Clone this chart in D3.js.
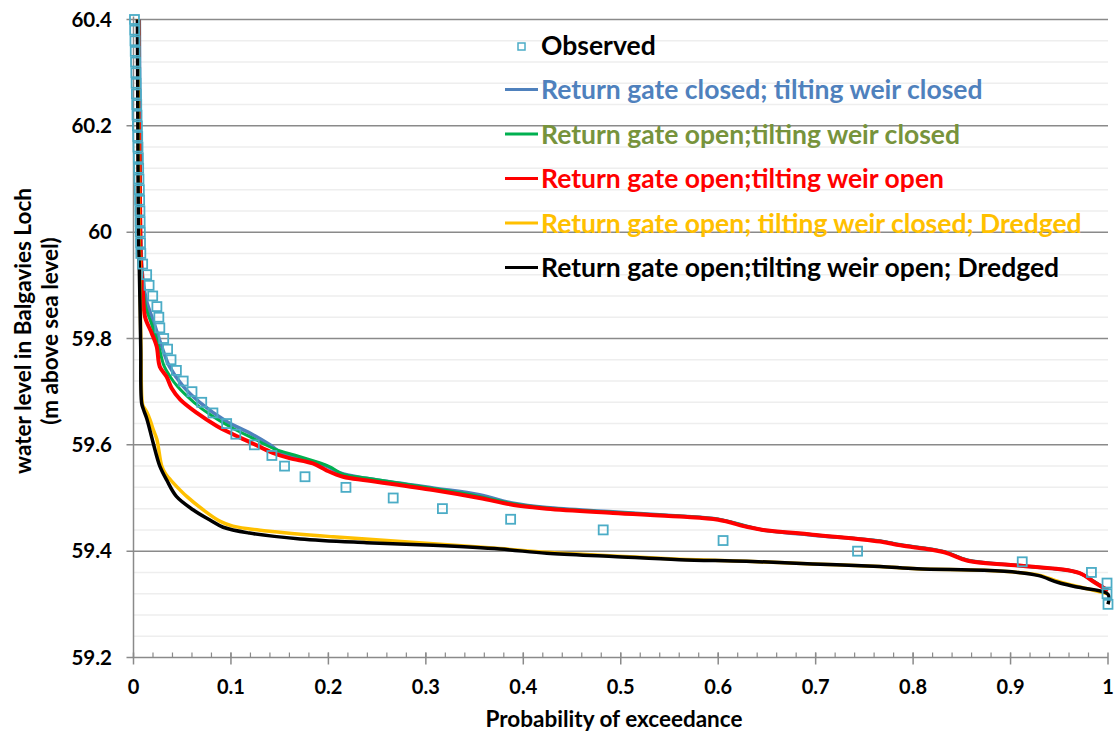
<!DOCTYPE html>
<html>
<head>
<meta charset="utf-8">
<script src="https://cdn.jsdelivr.net/npm/d3@7"></script>
<style>
  body { margin: 0; background: #fff; }
  text { font-family: Lato, "Open Sans", sans-serif; font-weight: bold; }
</style>
</head>
<body>
<div id="chart"></div>
<script>
var width = 1115;
var height = 733;
var margin = { top: 19.5, right: 7, bottom: 75, left: 133.5 };

// observed water levels and their exceedance probability
var obsLevel = [60.40, 60.38, 60.36, 60.34, 60.32, 60.30, 60.28, 60.26, 60.24, 60.22,
    60.20, 60.18, 60.16, 60.14, 60.12, 60.10, 60.08, 60.06, 60.04, 60.02,
    60.00, 59.98, 59.96, 59.94, 59.92, 59.90, 59.88, 59.86, 59.84, 59.82,
    59.80, 59.78, 59.76, 59.74, 59.72, 59.70, 59.68, 59.66, 59.64, 59.62,
    59.60, 59.58, 59.56, 59.54, 59.52, 59.50, 59.48, 59.46, 59.44, 59.42,
    59.40, 59.38, 59.36, 59.34, 59.32, 59.30];
var obsProb = [0.001, 0.0012, 0.0015, 0.0018, 0.0021, 0.0024, 0.0027, 0.003, 0.0033, 0.0036,
    0.004, 0.0043, 0.0046, 0.005, 0.0053, 0.0056, 0.006, 0.0063, 0.0066, 0.0068,
    0.007, 0.0072, 0.0075, 0.0094, 0.0135, 0.016, 0.0197, 0.024, 0.026, 0.027,
    0.031, 0.035, 0.0385, 0.044, 0.051, 0.060, 0.070, 0.0815, 0.0956, 0.105,
    0.124, 0.142, 0.155, 0.176, 0.218, 0.2665, 0.317, 0.387, 0.482, 0.605,
    0.743, 0.912, 0.983, 0.999, 0.999, 1.0];

// modelled scenarios: [probability, level]
var gateClosedWeirClosed = [[0.006,60.40],[0.0063,60.30],[0.0066,60.20],[0.0069,60.10],[0.0072,60.00],[0.0085,59.94],[0.0095,59.915],[0.0135,59.87],[0.020,59.835],[0.029,59.785],[0.037,59.747],[0.051,59.71],[0.068,59.68],[0.0956,59.644],[0.1195,59.622],[0.14,59.60],[0.152,59.585],[0.171,59.575],[0.198,59.56],[0.212,59.547],[0.239,59.537],[0.3075,59.519],[0.355,59.506],[0.39,59.49],[0.424,59.482],[0.492,59.474],[0.56,59.466],[0.60,59.46],[0.629,59.447],[0.646,59.44],[0.697,59.43],[0.766,59.419],[0.787,59.412],[0.832,59.399],[0.856,59.383],[0.908,59.373],[0.959,59.364],[0.973,59.357],[0.984,59.345],[1.0,59.326]];
var gateOpenWeirClosed = [[0.0055,60.40],[0.006,60.30],[0.0063,60.20],[0.0068,60.10],[0.0072,60.00],[0.0082,59.93],[0.0095,59.905],[0.0125,59.86],[0.019,59.825],[0.026,59.785],[0.031,59.75],[0.037,59.73],[0.045,59.71],[0.062,59.68],[0.08,59.655],[0.1,59.633],[0.125,59.61],[0.145,59.592],[0.17,59.578],[0.2,59.56],[0.215,59.545],[0.24,59.537],[0.3075,59.518],[0.355,59.503],[0.39,59.489],[0.424,59.481],[0.492,59.473],[0.56,59.466],[0.60,59.46],[0.629,59.447],[0.646,59.44],[0.697,59.431],[0.766,59.419],[0.787,59.412],[0.832,59.399],[0.856,59.383],[0.908,59.373],[0.959,59.364],[0.973,59.357],[0.984,59.345],[1.0,59.326]];
var gateOpenWeirOpen = [[0.005,60.40],[0.0055,60.30],[0.006,60.20],[0.0065,60.10],[0.007,60.00],[0.008,59.93],[0.0094,59.898],[0.0118,59.841],[0.0187,59.81],[0.0238,59.785],[0.027,59.747],[0.034,59.728],[0.039,59.707],[0.048,59.685],[0.065,59.66],[0.085,59.636],[0.102,59.62],[0.123,59.602],[0.143,59.585],[0.16,59.575],[0.184,59.565],[0.198,59.552],[0.215,59.54],[0.24,59.533],[0.3075,59.515],[0.355,59.5],[0.39,59.487],[0.424,59.48],[0.492,59.472],[0.56,59.465],[0.60,59.459],[0.629,59.446],[0.646,59.44],[0.697,59.431],[0.766,59.418],[0.787,59.411],[0.832,59.398],[0.856,59.382],[0.908,59.373],[0.959,59.364],[0.973,59.357],[0.984,59.344],[1.0,59.326]];
var gateOpenWeirClosedDredged = [[0.0045,60.40],[0.005,60.20],[0.0055,60.00],[0.0065,59.93],[0.0075,59.80],[0.0085,59.69],[0.0095,59.675],[0.0135,59.662],[0.017,59.647],[0.020,59.63],[0.024,59.61],[0.029,59.56],[0.033,59.545],[0.041,59.528],[0.0546,59.503],[0.075,59.473],[0.089,59.456],[0.102,59.447],[0.137,59.438],[0.205,59.427],[0.3075,59.414],[0.376,59.405],[0.424,59.398],[0.492,59.391],[0.56,59.385],[0.629,59.381],[0.697,59.376],[0.766,59.371],[0.804,59.367],[0.873,59.364],[0.908,59.36],[0.929,59.355],[0.949,59.343],[0.97,59.333],[1.0,59.32]];
var gateOpenWeirOpenDredged = [[0.004,60.40],[0.0045,60.20],[0.005,60.00],[0.006,59.93],[0.0074,59.785],[0.0084,59.678],[0.0105,59.665],[0.0135,59.65],[0.020,59.605],[0.027,59.56],[0.034,59.534],[0.044,59.503],[0.061,59.478],[0.078,59.459],[0.092,59.445],[0.119,59.434],[0.171,59.423],[0.239,59.416],[0.3075,59.411],[0.376,59.404],[0.424,59.396],[0.492,59.39],[0.56,59.384],[0.629,59.381],[0.697,59.376],[0.766,59.371],[0.804,59.367],[0.873,59.364],[0.908,59.36],[0.929,59.354],[0.949,59.341],[0.97,59.332],[1.0,59.319],[1.0,59.30]];

var seriesNames = ["Return gate closed; tilting weir closed", "Return gate open;tilting weir closed",
    "Return gate open;tilting weir open", "Return gate open; tilting weir closed; Dredged",
    "Return gate open;tilting weir open; Dredged"];
var seriesData = [gateClosedWeirClosed, gateOpenWeirClosed, gateOpenWeirOpen,
    gateOpenWeirClosedDredged, gateOpenWeirOpenDredged];
var lineColors = ["#4f81bd", "#00b050", "#ff0000", "#ffc000", "#000000"];
var textColors = ["#4f81bd", "#77933c", "#ff0000", "#ffc000", "#000000"];
var lineWidths = [3.5, 3, 4, 3.5, 3.5];

var xTicks = [0, 0.1, 0.2, 0.3, 0.4, 0.5, 0.6, 0.7, 0.8, 0.9, 1];
var xTickLabels = ["0", "0.1", "0.2", "0.3", "0.4", "0.5", "0.6", "0.7", "0.8", "0.9", "1"];
var yTicks = [59.2, 59.4, 59.6, 59.8, 60, 60.2, 60.4];
var yTickLabels = ["59.2", "59.4", "59.6", "59.8", "60", "60.2", "60.4"];

var x = d3.scaleLinear().domain([0, 1]).range([margin.left, width - margin.right]);
var y = d3.scaleLinear().domain([59.2, 60.4]).range([height - margin.bottom - 0.5, margin.top]);

var svg = d3.select("#chart").append("svg")
    .attr("width", width)
    .attr("height", height);

// minor gridlines every 0.04
var minorY = d3.range(59.24, 60.4, 0.04).filter(function(v) {
    return Math.abs(v * 5 - Math.round(v * 5)) > 0.01;
});
svg.append("g").selectAll("line").data(minorY).enter().append("line")
    .attr("x1", x(0)).attr("x2", x(1))
    .attr("y1", function(d) { return y(d); }).attr("y2", function(d) { return y(d); })
    .attr("stroke", "#eeeeee").attr("stroke-width", 1.5);

// major gridlines
svg.append("g").selectAll("line").data(yTicks.slice(1)).enter().append("line")
    .attr("x1", x(0) - 7).attr("x2", x(1))
    .attr("y1", function(d) { return y(d); }).attr("y2", function(d) { return y(d); })
    .attr("stroke", "#8a8a8a").attr("stroke-width", 1.5);

// x axis
var xAxis = svg.append("g");
xAxis.append("line")
    .attr("x1", x(0) - 7).attr("x2", x(1))
    .attr("y1", y(59.2)).attr("y2", y(59.2))
    .attr("stroke", "#8a8a8a").attr("stroke-width", 1.5);
var minorX = d3.range(0.02, 1, 0.02);
xAxis.selectAll(".mx").data(minorX).enter().append("line")
    .attr("x1", function(d) { return x(d); }).attr("x2", function(d) { return x(d); })
    .attr("y1", y(59.2) - 5).attr("y2", y(59.2))
    .attr("stroke", "#8a8a8a").attr("stroke-width", 1.2);
xAxis.selectAll(".Mx").data(xTicks).enter().append("line")
    .attr("x1", function(d) { return x(d); }).attr("x2", function(d) { return x(d); })
    .attr("y1", y(59.2) - 5).attr("y2", y(59.2) + 7)
    .attr("stroke", "#8a8a8a").attr("stroke-width", 1.5);
xAxis.selectAll("text").data(xTicks).enter().append("text")
    .attr("x", function(d) { return x(d); })
    .attr("y", 693.5)
    .attr("text-anchor", "middle")
    .attr("font-size", 20)
    .text(function(d, i) { return xTickLabels[i]; });

// y axis
svg.append("line")
    .attr("x1", x(0)).attr("x2", x(0))
    .attr("y1", y(60.4) - 3).attr("y2", y(59.2))
    .attr("stroke", "#8a8a8a").attr("stroke-width", 1.5);
svg.append("g").selectAll("text").data(yTicks).enter().append("text")
    .attr("x", 112)
    .attr("y", function(d) { return y(d) + 7; })
    .attr("text-anchor", "end")
    .attr("font-size", 20.5)
    .text(function(d, i) { return yTickLabels[i]; });

// axis titles
svg.append("text")
    .attr("x", 614)
    .attr("y", 727)
    .attr("text-anchor", "middle")
    .attr("font-size", 22.5)
    .text("Probability of exceedance");
var yTitle = svg.append("text")
    .attr("transform", "translate(31,331) rotate(-90)")
    .attr("text-anchor", "middle")
    .attr("font-size", 22.5);
yTitle.append("tspan").attr("x", 0).attr("dy", 0).text("water level in Balgavies Loch");
yTitle.append("tspan").attr("x", 0).attr("dy", 27).text("(m above sea level)");

// lines
var line = d3.line()
    .x(function(d) { return x(d[0]); })
    .y(function(d) { return y(d[1]); })
    .curve(d3.curveCatmullRom.alpha(0.5));

svg.append("g").selectAll("path").data(seriesData).enter().append("path")
    .attr("d", line)
    .attr("fill", "none")
    .attr("stroke", function(d, i) { return lineColors[i]; })
    .attr("stroke-width", function(d, i) { return lineWidths[i]; })
    .attr("stroke-linejoin", "round");

// observed squares
svg.append("g").selectAll("rect").data(obsLevel).enter().append("rect")
    .attr("x", function(d, i) { return x(obsProb[i]) - 4.5; })
    .attr("y", function(d) { return y(d) - 4.5; })
    .attr("width", 9).attr("height", 9)
    .attr("fill", "none")
    .attr("stroke", "#4bacc6")
    .attr("stroke-width", 1.8);

// legend
var legend = svg.append("g");
legend.append("rect")
    .attr("x", 518).attr("y", 43).attr("width", 7).attr("height", 7)
    .attr("fill", "none").attr("stroke", "#4bacc6").attr("stroke-width", 1.5);
legend.append("text")
    .attr("x", 541).attr("y", 55)
    .attr("font-size", 26.5)
    .attr("fill", "#000")
    .text("Observed");
var rows = legend.selectAll(".row").data(seriesNames).enter().append("g");
rows.append("line")
    .attr("x1", 505).attr("x2", 538)
    .attr("y1", function(d, i) { return 89.5 + i * 44.5; })
    .attr("y2", function(d, i) { return 89.5 + i * 44.5; })
    .attr("stroke", function(d, i) { return lineColors[i]; })
    .attr("stroke-width", 3);
rows.append("text")
    .attr("x", 541)
    .attr("y", function(d, i) { return 99 + i * 44.5; })
    .attr("font-size", 26.5)
    .attr("fill", function(d, i) { return textColors[i]; })
    .text(function(d) { return d; });
</script>
</body>
</html>
